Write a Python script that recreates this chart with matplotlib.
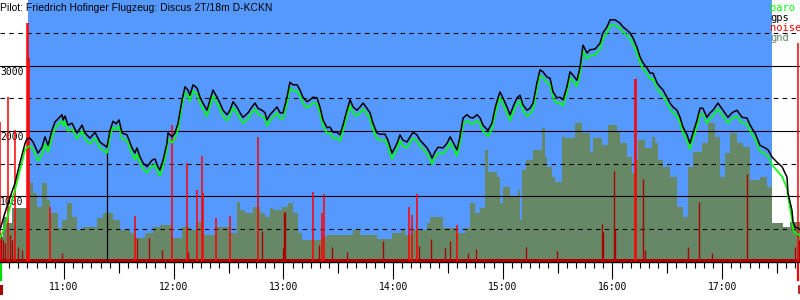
import numpy as np
import matplotlib
matplotlib.use("Agg")
import matplotlib.pyplot as plt
import matplotlib.transforms as mtransforms

plt.rcParams['font.family'] = ['DejaVu Sans Mono']

title = "Pilot: Friedrich Hofinger Flugzeug: Discus 2T/18m D-KCKN"

# time in minutes after 10:00
t_min = [25.0, 27.7, 30.5, 33.2, 35.9, 38.7, 39.8, 41.4, 43.1, 45.8, 48.0, 49.6, 51.3, 53.4, 55.1,
         58.9, 59.5, 60.6, 62.2, 64.4, 67.1, 69.9, 71.5, 74.2, 77.0, 79.7, 83.5, 85.2, 86.8, 88.5,
         90.1, 91.7, 94.5, 97.2, 98.8,
         99.9, 101.6, 103.2, 105.4, 108.1, 109.8, 111.4, 112.5, 114.2, 116.3, 116.9, 119.1, 120.7,
         122.4, 124.6, 126.2, 127.8, 128.9, 130.6, 132.8, 134.4, 136.0, 138.2, 139.9, 141.5, 143.7,
         145.3, 147.0, 149.2, 150.8, 152.5, 154.6, 156.3, 157.9, 160.7, 162.8, 164.5, 166.1, 168.3, 170.0,
         171.0, 172.7, 176.5, 178.2, 179.8, 182.0, 183.6, 185.3, 187.5, 189.1, 190.7, 192.9, 194.6,
         196.2, 198.4, 200.0, 201.7, 203.9, 205.5, 207.2, 209.3, 211.0, 212.6, 214.8, 216.5, 218.1,
         220.3, 221.9, 223.6, 225.7, 227.4, 229.0, 231.2, 232.9, 235.6, 237.2, 239.4, 241.1,
         242.2, 243.8, 245.4, 247.6, 249.3, 250.9, 253.1, 254.7, 256.4, 258.6, 260.2, 261.3, 262.9,
         264.6, 267.3, 269.5, 271.2, 272.8, 275.0, 276.6, 278.3, 280.4, 282.1, 283.7, 285.9, 287.6,
         289.2, 291.9, 294.1, 295.8, 297.4, 298.5, 300.1, 302.3, 304.0, 305.6, 307.8, 309.4,
         311.1, 313.3, 314.9, 316.6, 318.7, 320.4, 322.0, 324.2, 325.9, 327.5, 329.7, 331.3, 333.0,
         335.1, 336.8, 338.4, 340.6, 342.3, 343.9, 346.1, 347.7, 350.5, 353.2, 354.8, 357.0, 358.7,
         361.4, 364.1, 365.8, 368.0, 369.6, 371.3, 373.4, 375.1, 376.7, 378.9, 380.6,
         382.2, 384.4, 386.0, 387.7, 389.8, 391.5, 393.1, 395.3, 397.0, 398.6, 400.8, 402.4, 404.1,
         406.3, 407.9, 409.5, 411.7, 413.4, 415.0, 417.7, 420.5, 423.2, 425.4, 428.1, 430.9, 433.6,
         435.3, 438.0, 440.7, 443.5, 445.1, 447.3, 450.0, 452.8, 455.5, 456.0, 458.2, 458.8, 459.9,
         461.5, 462.6]

gps = [480, 740, 980, 1200, 1510, 1810, 1880, 1890, 1830, 1660, 1750, 1910, 1780, 2010, 2140,
       2250, 2170, 2230, 2090, 2120, 1970, 2090, 1970, 1890, 1980, 1830, 1750, 2010, 2150, 2110,
       2170, 1970, 1940, 1740, 1660,
       1740, 1600, 1510, 1450, 1550, 1570, 1450, 1400, 1550, 1810, 1970, 1910, 1970, 2120, 2480,
       2680, 2630, 2550, 2710, 2660, 2520, 2430, 2320, 2480, 2630, 2520, 2430, 2320, 2250, 2320,
       2450, 2370, 2280, 2210, 2280, 2370, 2430, 2350, 2320, 2280,
       2170, 2250, 2370, 2280, 2280, 2520, 2750, 2710, 2710, 2630, 2520, 2450, 2480, 2520, 2510,
       2370, 2170, 2050, 2060, 1980, 1980, 1940, 2090, 2320, 2480, 2370, 2320, 2370, 2430, 2350,
       2280, 2120, 1970, 1950, 1950, 1860, 1660, 1750,
       1810, 1940, 1860, 1830, 1910, 1980, 1940, 1860, 1810, 1740, 1660, 1580, 1680, 1750, 1740,
       1810, 1910, 1830, 1710, 1910, 2200, 2250, 2210, 2200, 2250, 2200, 2090, 2010, 2120, 2350,
       2510, 2600, 2510, 2370, 2250, 2370, 2510, 2550,
       2400, 2320, 2350, 2430, 2740, 2940, 2910, 2830, 2810, 2600, 2510, 2520, 2480, 2680, 2910,
       2860, 2780, 2980, 3320, 3200, 3250, 3260, 3350, 3510, 3600, 3710, 3710, 3660, 3600, 3550,
       3510, 3430, 3290, 3140, 3050, 2970, 2890,
       2890, 2740, 2680, 2630, 2520, 2430, 2370, 2320, 2210, 2060, 1940, 1810, 1970, 2170, 2350,
       2350, 2210, 2280, 2320, 2430, 2320, 2210, 2280, 2320, 2210, 2200, 2090, 1970, 1780, 1740,
       1710, 1600, 1520, 1450, 1290, 1050, 780, 600, 520, 510, 480]

baro = [350, 520, 830, 1090, 1400, 1710, 1750, 1770, 1720, 1540, 1640, 1800, 1680, 1900, 2040,
        2160, 2080, 2140, 2000, 2030, 1880, 2000, 1880, 1800, 1890, 1740, 1660, 1910, 2060, 2020,
        2080, 1880, 1850, 1650, 1560,
        1650, 1510, 1420, 1360, 1460, 1480, 1360, 1310, 1460, 1720, 1880, 1820, 1880, 2030, 2390,
        2590, 2540, 2460, 2620, 2570, 2430, 2340, 2230, 2390, 2540, 2430, 2340, 2230, 2160, 2230,
        2360, 2280, 2190, 2120, 2190, 2280, 2340, 2260, 2230, 2190,
        2080, 2160, 2280, 2190, 2190, 2430, 2660, 2620, 2620, 2540, 2430, 2360, 2390, 2430, 2420,
        2280, 2080, 1960, 1970, 1890, 1890, 1850, 2000, 2230, 2390, 2280, 2230, 2280, 2340, 2260,
        2190, 2030, 1880, 1860, 1860, 1770, 1570, 1660,
        1720, 1850, 1770, 1740, 1820, 1890, 1850, 1770, 1720, 1650, 1570, 1490, 1590, 1660, 1650,
        1720, 1820, 1740, 1620, 1820, 2110, 2160, 2120, 2110, 2160, 2110, 2000, 1920, 2030, 2260,
        2420, 2510, 2420, 2280, 2160, 2280, 2420, 2460,
        2310, 2230, 2260, 2340, 2650, 2850, 2820, 2740, 2720, 2510, 2420, 2430, 2390, 2590, 2820,
        2770, 2690, 2890, 3230, 3110, 3160, 3170, 3260, 3420, 3510, 3620, 3630, 3580, 3520, 3470,
        3420, 3340, 3200, 3050, 2960, 2880, 2800,
        2800, 2650, 2590, 2540, 2430, 2340, 2280, 2230, 2120, 1970, 1850, 1720, 1880, 2080, 2260,
        2260, 2120, 2190, 2230, 2340, 2230, 2120, 2190, 2230, 2120, 2110, 2000, 1880, 1690, 1650,
        1610, 1480, 1390, 1300, 1120, 1000, 640, 480, 430, 410, 400]

# ground elevation under the track
gnd_t = [25.0, 26.6, 28.8, 31.6, 41.4, 43.1, 45.2, 48.0, 50.7, 52.4, 56.7, 58.9, 61.6, 64.4, 67.1,
         70.4, 78.1, 81.3, 86.8, 90.6, 96.1, 98.8, 104.3, 108.7, 112.5, 119.1, 124.6, 128.9, 132.8,
         135.5, 142.6, 150.8, 154.6, 156.3, 159.0, 163.4, 167.2, 170.0, 172.7, 174.3, 179.3, 182.5,
         185.3, 188.0, 190.2, 201.1, 203.9, 218.1, 221.9, 231.2, 239.4, 244.9, 246.5, 250.9, 258.6,
         260.2, 267.3, 275.0, 279.4, 282.1, 284.8, 287.6, 290.3, 291.9, 296.9, 298.5, 300.1, 304.0,
         308.3, 309.4, 310.5, 312.7, 316.6, 321.5, 323.1, 324.2, 326.9, 328.6, 332.4, 334.1, 339.5,
         343.4, 347.7, 349.4, 354.3, 357.6, 362.5, 364.1, 368.0, 370.7, 372.3, 374.0, 377.8, 381.6,
         383.3, 384.9, 387.7, 391.5, 395.3, 398.6, 401.3, 404.1, 409.0, 412.3, 416.1, 418.8, 421.6,
         424.3, 428.1, 431.4, 435.3, 440.7, 444.5, 447.3, 453.3, 457.1, 462.6]
gnd = [370, 680, 580, 820, 1200, 1050, 830, 1200, 940, 740, 510, 630, 890, 680, 480,
       520, 660, 740, 630, 480, 430, 350, 430, 520, 550, 350, 520, 480, 600,
       400, 520, 430, 910, 780, 740, 830, 740, 680, 820, 780, 830, 890,
       740, 430, 320, 370, 400, 480, 400, 340, 430, 480, 400, 480, 580,
       680, 510, 430, 510, 890, 740, 820, 1710, 1370, 1290, 890, 1140, 980,
       1090, 630, 1400, 1550, 1710, 2050, 1600, 1450, 1290, 1220, 1910, 1890, 2120,
       1970, 1680, 1890, 1780, 2090, 1980, 1810, 1600, 1350, 1550, 1860, 1740, 1910,
       1810, 1550, 1450, 1290, 830, 680, 1450, 1680, 1810, 2120, 1910, 1290, 1660,
       1970, 1810, 1750, 1250, 1290, 1140, 580, 520, 600, 600]

# engine noise: strong peaks (bright) and normal level (dark)
noise_hi_t = [25.0, 29.4, 33.2, 39.8, 40.3, 40.9, 52.4, 98.8, 119.1, 127.3, 132.8, 135.5, 136.0,
              143.2, 150.8, 166.1, 196.2, 201.1, 202.2, 248.7, 250.4, 253.1, 275.0, 372.3, 372.9, 461.5]
noise_hi = [2140, 2520, 2010, 3660, 3660, 3120, 830, 690, 2090, 1510, 1090, 1610, 1050,
            660, 690, 1910, 1060, 740, 1030, 830, 710, 1030, 550, 2800, 2800, 3350]
noise_lo_t = [25.5, 26.6, 27.7, 30.5, 31.6, 34.8, 37.0, 58.9, 99.9, 106.5, 113.6, 127.8, 168.3,
              179.8, 180.3, 180.9, 199.5, 206.6, 214.8, 234.5, 254.2, 260.8, 268.4, 271.2, 281.0,
              285.4, 312.7, 329.7, 354.3, 354.8, 360.9, 361.4, 376.7, 377.8, 401.3, 407.3, 414.5,
              433.6, 459.9, 462.1]
noise_lo = [430, 320, 280, 400, 320, 220, 170, 120, 350, 350, 170, 140, 460,
            200, 750, 750, 250, 220, 140, 310, 230, 340, 200, 310, 120,
            180, 220, 150, 570, 450, 1380, 490, 1260, 170, 220, 910, 120,
            1340, 220, 320]
noise_floor = 30

marker_t = [83.5]
marker_h = [1750]

task_start, task_end = 40.3, 447.3
grid_solid = [1000, 2000, 3000]
grid_dashed = [500, 1500, 2500, 3500]
hour_ticks = [60, 120, 180, 240, 300, 360, 420]
hour_labels = ["11:00", "12:00", "13:00", "14:00", "15:00", "16:00", "17:00"]

legend_names = ["baro", "gps", "noise", "gnd"]
legend_colors = ["#00ff00", "#000000", "#ff0000", "#668866"]

fig = plt.figure(figsize=(8, 3), dpi=100)
ax = fig.add_axes([0, 38 / 300, 1, 262 / 300])
ax.set_xlim(25.0, 462.6)
ax.set_ylim(-15, 4015)

ax.axvspan(task_start, task_end, color="#5599ff", lw=0, zorder=0)

ytrans = mtransforms.blended_transform_factory(ax.transAxes, ax.transData)
for v in grid_solid:
    ax.text(0.0, v - 20, str(v), transform=ytrans, ha="left", va="top", fontsize=7, zorder=1)

ax.fill_between(gnd_t, 0, gnd, step="post", color="#668866", lw=0, zorder=2)

for v in grid_solid:
    ax.axhline(v, color="black", lw=0.8, zorder=3)
for v in grid_dashed:
    ax.axhline(v, color="black", lw=0.8, ls=(0, (4, 4)), zorder=3)

ax.axhspan(-15, noise_floor, color="#aa0000", lw=0, zorder=4)
ax.vlines(noise_lo_t, 0, noise_lo, color="#aa0000", lw=1.0, zorder=4)
ax.vlines(noise_hi_t, 0, noise_hi, color="#ff0000", lw=1.1, zorder=4)
ax.vlines(marker_t, 0, marker_h, color="black", lw=0.9, zorder=4)

ax.plot(t_min, baro, color="#00ff00", lw=1.2, zorder=5)
ax.plot(t_min, gps, color="black", lw=1.1, zorder=6)

for s in ["left", "right", "top"]:
    ax.spines[s].set_visible(False)
ax.spines["bottom"].set_linewidth(1.0)
ax.set_yticks([])

ax.set_xticks(hour_ticks)
ax.set_xticklabels(hour_labels)
ax.set_xticks(np.arange(30, 463, 5), minor=True)
ax.tick_params(axis="x", which="major", length=12.2, width=0.8, pad=2, labelsize=7)
ax.tick_params(axis="x", which="minor", length=4.3, width=0.8)
sec = ax.secondary_xaxis("bottom")
sec.set_xticks(np.arange(90, 463, 60))
sec.tick_params(length=7.9, width=0.8, labelbottom=False)
sec.spines["bottom"].set_visible(False)

# start / end markers below the axis
xtrans = mtransforms.blended_transform_factory(ax.transData, ax.transAxes)
ax.plot([t_min[0] + 0.6] * 2, [0, -0.07], color="#00dd00", lw=1.6, transform=xtrans, clip_on=False)
ax.plot([t_min[0] + 0.6] * 2, [-0.09, -0.12], color="#aa0000", lw=2.2, transform=xtrans, clip_on=False)
ax.plot([t_min[-1] - 0.9] * 2, [0, -0.07], color="#ff0000", lw=1.6, transform=xtrans, clip_on=False)
ax.plot([t_min[-1] - 0.4] * 2, [-0.09, -0.12], color="#aa0000", lw=1.2, transform=xtrans, clip_on=False)

fig.text(0.0, 1 - 8 / 300, title, ha="left", va="center", fontsize=7.5, family="Liberation Sans")
for i, (name, col) in enumerate(zip(legend_names, legend_colors)):
    fig.text(770 / 800, 1 - (8 + 10 * i) / 300, name, color=col, ha="left", va="center", fontsize=7.5)

fig.savefig("out.png", dpi=100)
